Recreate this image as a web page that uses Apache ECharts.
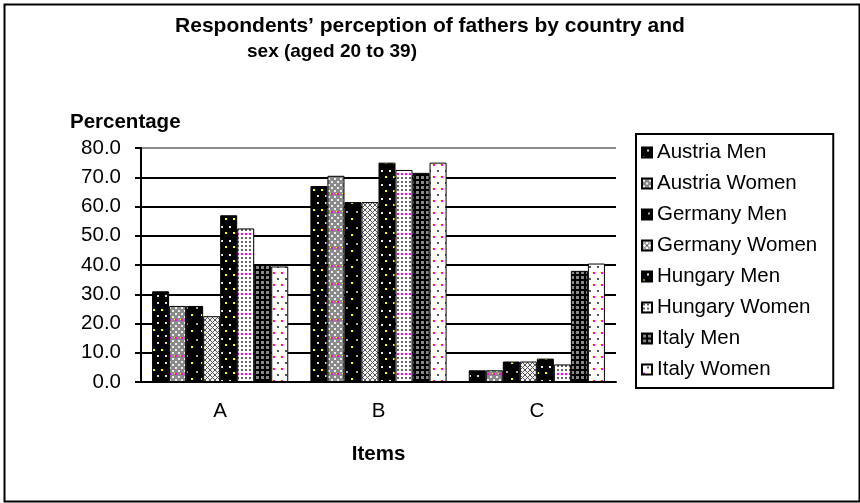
<!DOCTYPE html>
<html>
<head>
<meta charset="utf-8">
<script src="https://cdn.jsdelivr.net/npm/echarts@6/dist/echarts.min.js"></script>
<style>
  html, body { margin: 0; padding: 0; background: #fff; }
  #chart { width: 860px; height: 503px; }
</style>
</head>
<body>
<div id="chart"></div>
<script>
// data
const categories = ['A', 'B', 'C'];
const seriesNames = ['Austria Men', 'Austria Women', 'Germany Men', 'Germany Women',
  'Hungary Men', 'Hungary Women', 'Italy Men', 'Italy Women'];
const austriaMen = [31, 67, 4];
const austriaWomen = [26, 70.5, 4];
const germanyMen = [26, 61.5, 7];
const germanyWomen = [22.5, 61.5, 7];
const hungaryMen = [57, 75, 8];
const hungaryWomen = [52.5, 72.5, 6];
const italyMen = [40, 71.5, 38];
const italyWomen = [39.5, 75, 40.5];
const yMin = 0, yMax = 80, yStep = 10;

const values = [austriaMen, austriaWomen, germanyMen, germanyWomen,
  hungaryMen, hungaryWomen, italyMen, italyWomen];

// small tiled fills, like the old office print patterns
function pattern(w, h, bg, marks) {
  const c = document.createElement('canvas');
  c.width = w; c.height = h;
  const g = c.getContext('2d');
  g.fillStyle = bg; g.fillRect(0, 0, w, h);
  marks.forEach(([x, y, s, col]) => { g.fillStyle = col; g.fillRect(x, y, s, s); });
  return { image: c, repeat: 'repeat' };
}
function xPattern() {
  const c = document.createElement('canvas');
  c.width = 5; c.height = 5;
  const g = c.getContext('2d');
  g.fillStyle = '#f4f4f4'; g.fillRect(0, 0, 5, 5);
  g.strokeStyle = '#555'; g.lineWidth = 1;
  g.beginPath(); g.moveTo(0, 0); g.lineTo(5, 5); g.moveTo(5, 0); g.lineTo(0, 5); g.stroke();
  return { image: c, repeat: 'repeat' };
}

const fills = [
  pattern(8, 20, '#000', [[5, 2, 2, '#ddd'], [1, 9, 2, '#ff0'], [3, 10, 1, '#00f'], [5, 15, 2, '#ddd']]),
  pattern(6, 18, '#8a8a8a', [[1, 1, 2, '#eee'], [4, 4, 2, '#eee'], [1, 7, 2, '#eee'], [4, 10, 2, '#eee'],
    [1, 13, 2, '#f0f'], [0, 13, 1, '#ff0'], [4, 16, 2, '#eee']]),
  pattern(10, 16, '#000', [[6, 3, 2, '#aaa'], [1, 10, 2, '#ff0'], [3, 11, 1, '#00f']]),
  xPattern(),
  pattern(8, 14, '#000', [[5, 2, 2, '#eee'], [1, 8, 2, '#ff0'], [3, 9, 1, '#00f']]),
  pattern(4, 20, '#fff', [[1, 1, 2, '#666'], [1, 5, 2, '#666'], [1, 9, 2, '#666'], [1, 13, 2, '#f0f'], [1, 17, 2, '#666']]),
  pattern(5, 5, '#000', [[1, 1, 3, '#888']]),
  pattern(8, 12, '#fff', [[5, 2, 2, '#555'], [1, 8, 2, '#f0f'], [0, 8, 1, '#ff0']])
];

const chart = echarts.init(document.getElementById('chart'));
const font = 'Liberation Sans, Arial, sans-serif';

chart.setOption({
  animation: false,
  title: [
    { text: 'Respondents’ perception of fathers by country and', left: 'center', top: 11,
      textStyle: { fontFamily: font, fontSize: 21, fontWeight: 'bold', color: '#000' } },
    { text: 'sex (aged 20 to 39)', left: 242, top: 37,
      textStyle: { fontFamily: font, fontSize: 19, fontWeight: 'bold', color: '#000' } },
    { text: 'Percentage', left: 65, top: 107,
      textStyle: { fontFamily: font, fontSize: 20.5, fontWeight: 'bold', color: '#000' } }
  ],
  graphic: [{
    type: 'rect', left: 2, top: 2, shape: { width: 855, height: 497 },
    style: { fill: 'none', stroke: '#000', lineWidth: 2 }, silent: true
  }],
  legend: {
    orient: 'vertical', left: 636, top: 134,
    data: seriesNames,
    icon: 'rect', itemWidth: 10, itemHeight: 10, itemGap: 10,
    padding: [8, 16, 8, 5],
    borderColor: '#000', borderWidth: 2,
    textStyle: { fontFamily: font, fontSize: 20.5, color: '#000', lineHeight: 21 }
  },
  grid: { left: 141, right: 244, top: 148, bottom: 121 },
  xAxis: {
    type: 'category', data: categories,
    name: 'Items', nameLocation: 'middle', nameGap: 62,
    nameTextStyle: { fontFamily: font, fontSize: 20.5, fontWeight: 'bold', color: '#000' },
    axisLine: { lineStyle: { color: '#000', width: 2 } },
    axisTick: { length: 6, lineStyle: { color: '#000', width: 2 } },
    axisLabel: { fontFamily: font, fontSize: 20.5, color: '#000', margin: 19 }
  },
  yAxis: {
    type: 'value', min: yMin, max: yMax, interval: yStep,
    axisLine: { show: true, lineStyle: { color: '#000', width: 2 } },
    axisTick: { show: true, length: 6, lineStyle: { color: '#000', width: 2 } },
    axisLabel: { fontFamily: font, fontSize: 20.5, color: '#000', margin: 20,
      formatter: v => v.toFixed(1) },
    splitLine: { lineStyle: {
      color: ['#000', '#000', '#000', '#000', '#000', '#000', '#000', '#000', '#8c8c8c'], width: 2 } }
  },
  series: seriesNames.map((name, i) => ({
    name, type: 'bar', data: values[i],
    barGap: '0%', barCategoryGap: '14%',
    itemStyle: { color: fills[i], borderColor: '#000', borderWidth: 1 }
  }))
});
</script>
</body>
</html>
